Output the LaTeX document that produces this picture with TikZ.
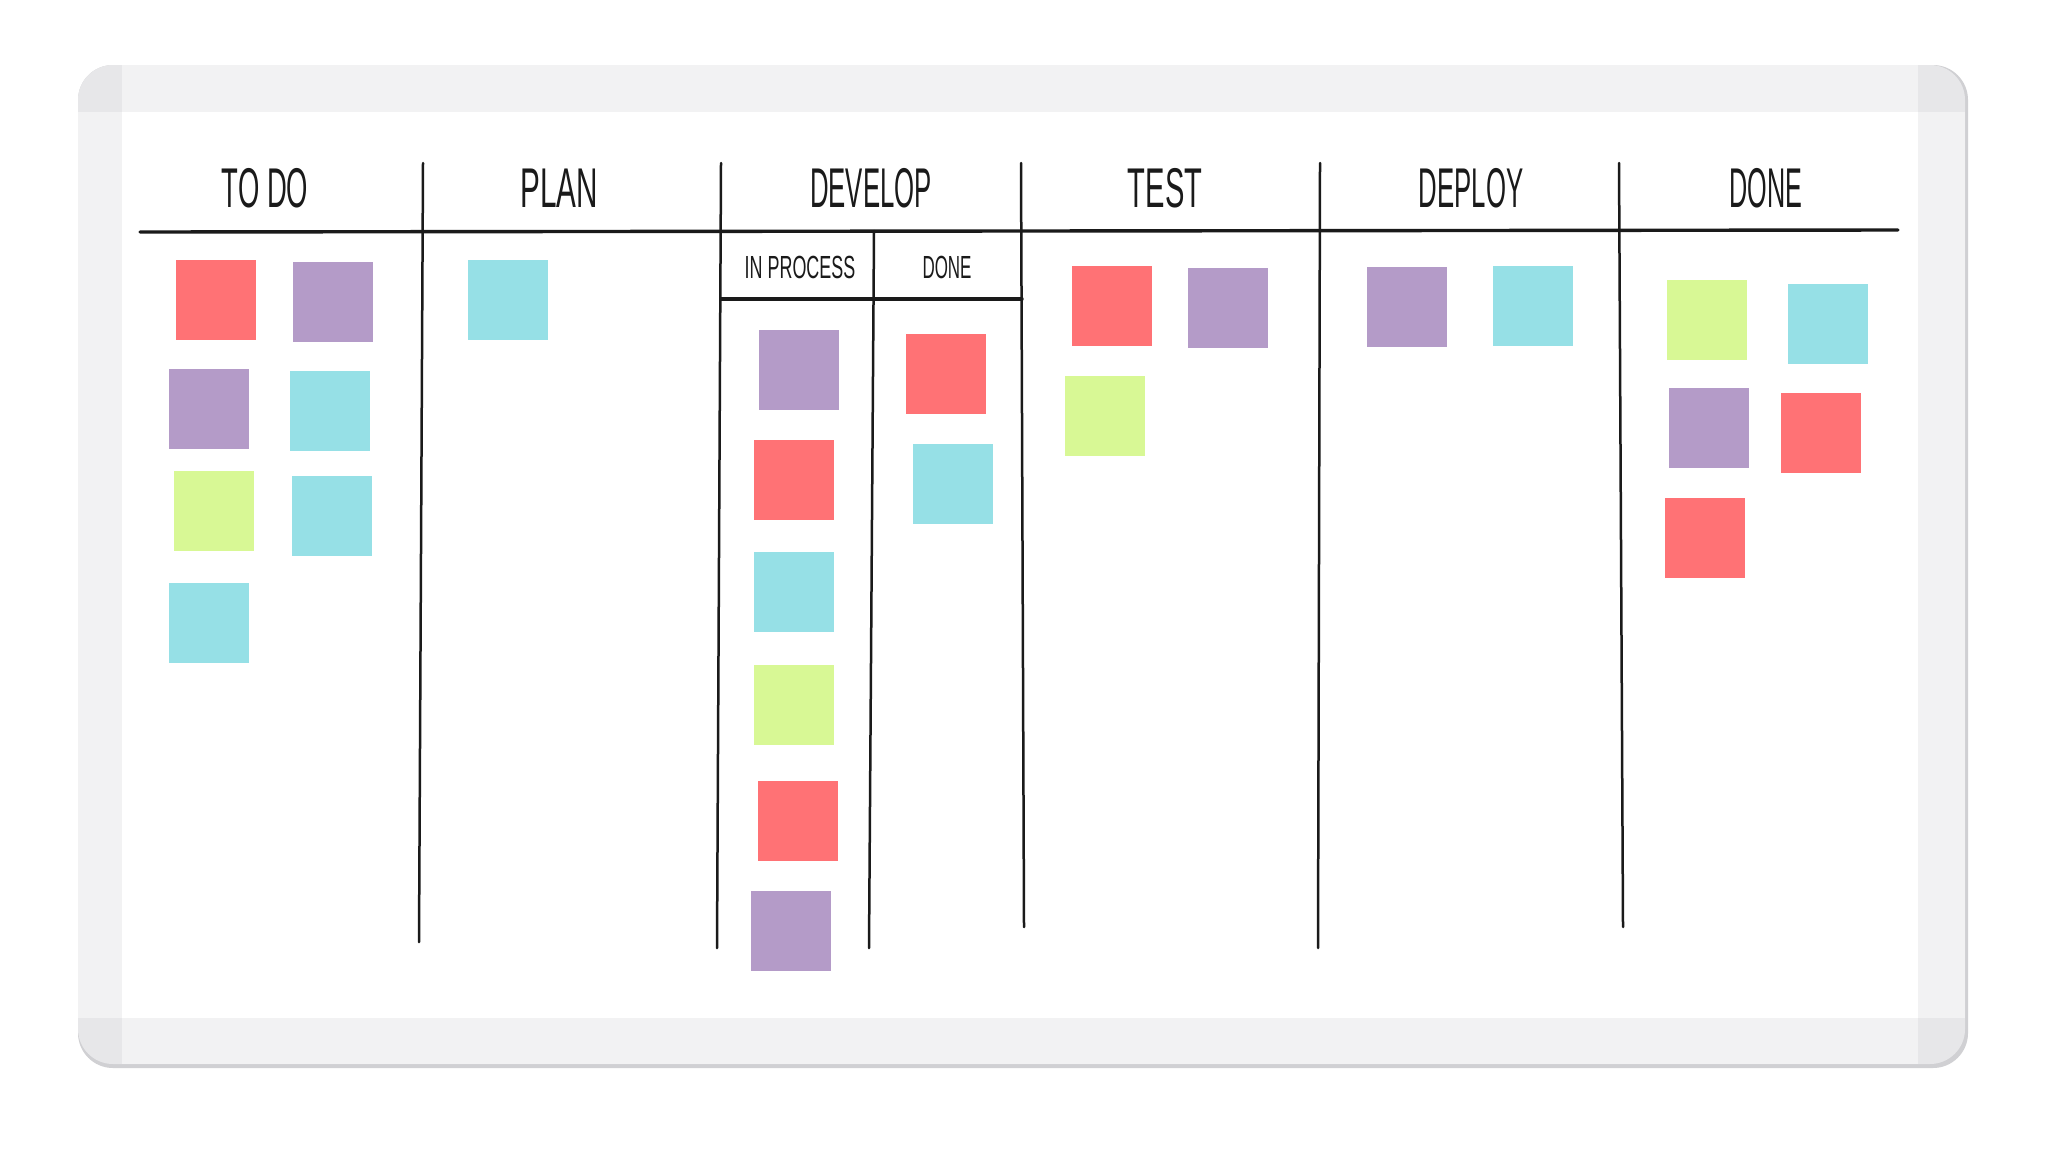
\documentclass[tikz,border=0pt]{standalone}
\usepackage{fontspec}
\usepackage{graphicx}
\newfontfamily\handfont{Liberation Sans}
\definecolor{notered}{HTML}{FF7275}
\definecolor{notepurple}{HTML}{B49BC8}
\definecolor{notecyan}{HTML}{96E0E6}
\definecolor{notegreen}{HTML}{D8F895}
\definecolor{bandgray}{HTML}{F2F2F3}
\definecolor{cornergray}{HTML}{E7E7E9}
\definecolor{shadowgray}{HTML}{D0D0D3}
\definecolor{ink}{HTML}{1A1A1A}
\begin{document}
\begin{tikzpicture}[x=0.5pt,y=-0.5pt,
  note/.style={minimum width=40pt,minimum height=40pt,inner sep=0pt,anchor=north west,draw=none},
  headrule/.style={draw=ink,line width=1.7pt,line cap=round},
  colrule/.style={draw=ink,line width=1.25pt,line cap=round},
  head/.style={font=\handfont\fontsize{28}{30}\selectfont,text=ink,anchor=base,inner sep=0pt},
  subhead/.style={font=\handfont\fontsize{16}{18}\selectfont,text=ink,anchor=base,inner sep=0pt}]
\useasboundingbox (0,0) rectangle (2048,1152);
% board
\fill[shadowgray,rounded corners=17.5pt] (78,65) rectangle (1968,1068);
\fill[cornergray,rounded corners=17.5pt] (78,65) rectangle (1965,1064);
\fill[bandgray] (122,65) rectangle (1918,112);
\fill[bandgray] (122,1018) rectangle (1918,1064);
\fill[bandgray] (78,112) rectangle (122,1018);
\fill[bandgray] (1918,112) rectangle (1965,1018);
\fill[white] (122,112) rectangle (1918,1018);
% rules
\draw[headrule] (140,232) -- (1898,230);
\draw[colrule] (423,163) -- (419,942);
\draw[colrule] (721,163) -- (717,948);
\draw[colrule] (874,231) -- (869,948);
\draw[colrule] (1021,163) -- (1024,927);
\draw[colrule] (1320,163) -- (1318,948);
\draw[colrule] (1619,163) -- (1623,927);
\draw[headrule] (721,299) -- (1022,299);
% headers
\node[head] (htodo) at (265,207) {\scalebox{0.49}[1]{TO DO}};
\node[head] (hplan) at (559,207) {\scalebox{0.53}[1]{PLAN}};
\node[head] (hdev) at (871,207) {\scalebox{0.46}[1]{DEVELOP}};
\node[head] (htest) at (1165,207) {\scalebox{0.52}[1]{TEST}};
\node[head] (hdeploy) at (1471,207) {\scalebox{0.46}[1]{DEPLOY}};
\node[head] (hdone) at (1766,207) {\scalebox{0.45}[1]{DONE}};
\node[subhead] (hinproc) at (800,278) {\scalebox{0.56}[1]{IN PROCESS}};
\node[subhead] (hdevdone) at (947,278) {\scalebox{0.53}[1]{DONE}};
% notes: to do
\node[note,fill=notered] (n1) at (176,260) {};
\node[note,fill=notepurple] (n2) at (293,262) {};
\node[note,fill=notepurple] (n3) at (169,369) {};
\node[note,fill=notecyan] (n4) at (290,371) {};
\node[note,fill=notegreen] (n5) at (174,471) {};
\node[note,fill=notecyan] (n6) at (292,476) {};
\node[note,fill=notecyan] (n7) at (169,583) {};
% plan
\node[note,fill=notecyan] (n8) at (468,260) {};
% develop in process
\node[note,fill=notepurple] (n9) at (759,330) {};
\node[note,fill=notered] (n10) at (754,440) {};
\node[note,fill=notecyan] (n11) at (754,552) {};
\node[note,fill=notegreen] (n12) at (754,665) {};
\node[note,fill=notered] (n13) at (758,781) {};
\node[note,fill=notepurple] (n14) at (751,891) {};
% develop done
\node[note,fill=notered] (n15) at (906,334) {};
\node[note,fill=notecyan] (n16) at (913,444) {};
% test
\node[note,fill=notered] (n17) at (1072,266) {};
\node[note,fill=notepurple] (n18) at (1188,268) {};
\node[note,fill=notegreen] (n19) at (1065,376) {};
% deploy
\node[note,fill=notepurple] (n20) at (1367,267) {};
\node[note,fill=notecyan] (n21) at (1493,266) {};
% done
\node[note,fill=notegreen] (n22) at (1667,280) {};
\node[note,fill=notecyan] (n23) at (1788,284) {};
\node[note,fill=notepurple] (n24) at (1669,388) {};
\node[note,fill=notered] (n25) at (1781,393) {};
\node[note,fill=notered] (n26) at (1665,498) {};
\end{tikzpicture}
\end{document}
